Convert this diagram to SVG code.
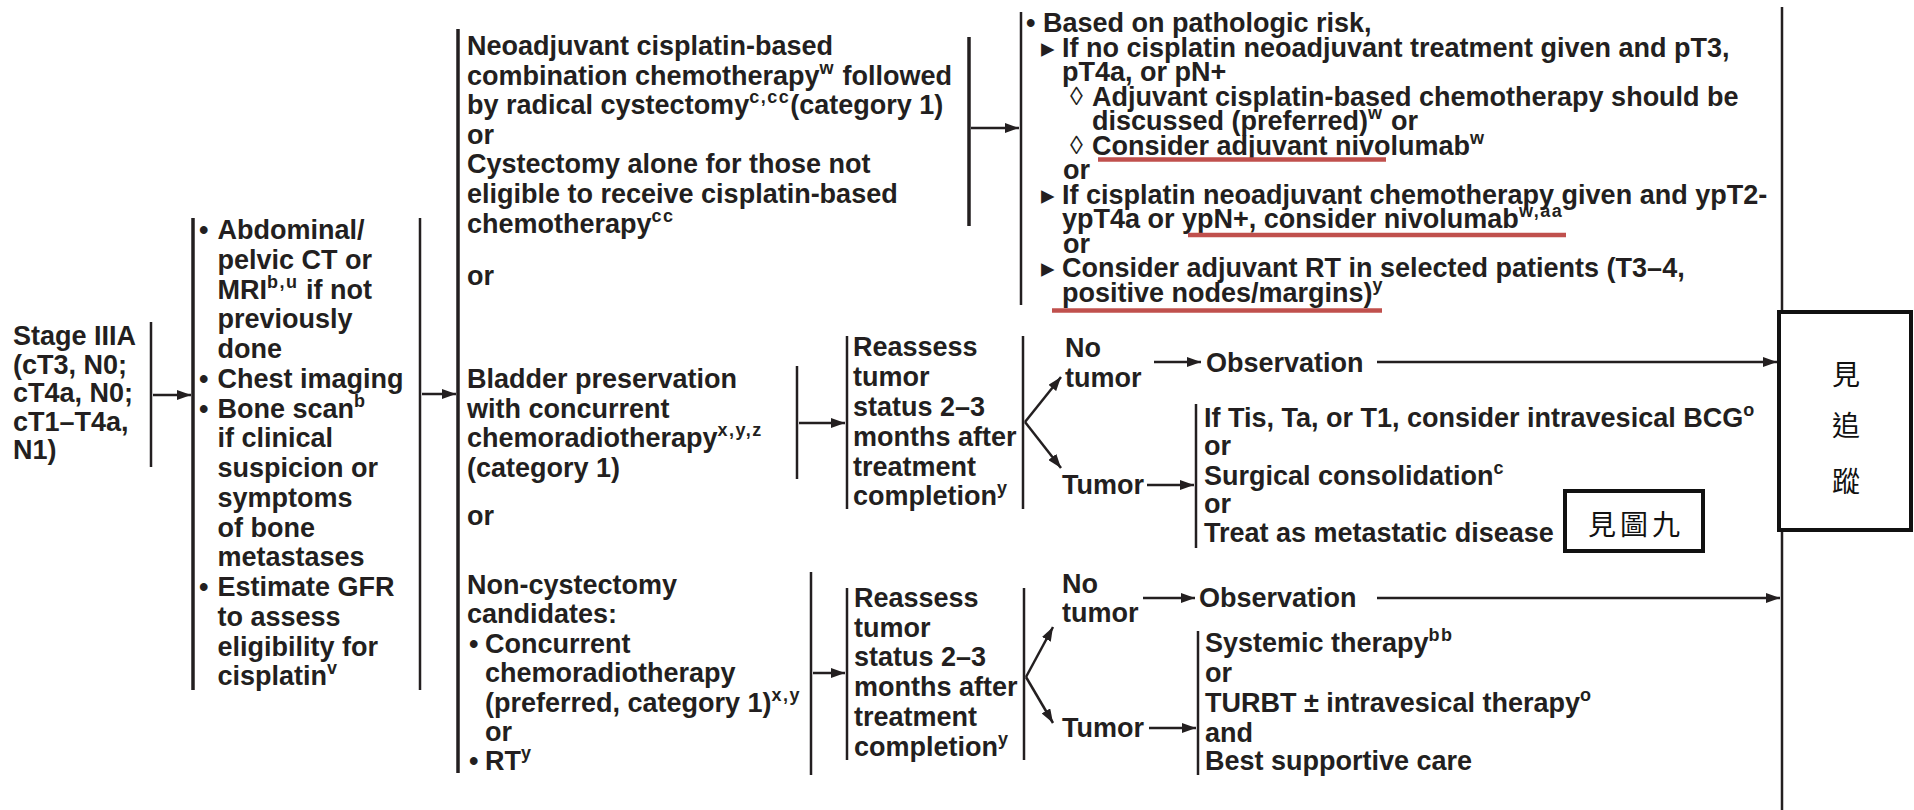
<svg xmlns="http://www.w3.org/2000/svg" width="1914" height="810" viewBox="0 0 1914 810">
<style>
.t{font-family:"Liberation Sans",Arial,sans-serif;font-weight:bold;font-size:27px;fill:#231f20}
.s{font-size:18px;letter-spacing:1.5px}
.sym{font-family:"DejaVu Sans","Liberation Sans",sans-serif;font-weight:normal;font-size:27px;fill:#231f20}
.dia{font-family:"Liberation Sans","DejaVu Sans",sans-serif;font-weight:normal;font-size:26px;fill:#231f20}
.cjk{font-family:"Noto Sans CJK TC","Noto Sans CJK SC",sans-serif;font-size:28px;fill:#111}
.ln{stroke:#231f20;stroke-width:2.5;fill:none}
.lk{stroke:#231f20;stroke-width:3.5;fill:none}
.ar{marker-end:url(#ah)}
.box{fill:#fff;stroke:#111;stroke-width:4}
.red{stroke:#c0504d;stroke-width:4.5;fill:none}
.shd{stroke:#9a9a9a;stroke-width:3;opacity:.6;fill:none;filter:url(#blur)}
</style>
<defs>
<marker id="ah" markerUnits="userSpaceOnUse" markerWidth="14" markerHeight="10" refX="14" refY="5" orient="auto">
<path d="M0,0 L14,5 L0,10 z" fill="#231f20"/>
</marker>
<filter id="blur" x="-5%" y="-200%" width="110%" height="500%"><feGaussianBlur stdDeviation="1.2"/></filter>
</defs>
<rect width="1914" height="810" fill="#fff"/>

<g id="connectors">
<line class="ln" x1="151" y1="322" x2="151" y2="467"/>
<line class="ln ar" x1="153" y1="395" x2="191" y2="395"/>
<line class="lk" x1="193" y1="218" x2="193" y2="690"/>
<line class="ln" x1="420" y1="218" x2="420" y2="690"/>
<line class="ln ar" x1="422" y1="394" x2="456" y2="394"/>
<line class="lk" x1="458" y1="29" x2="458" y2="773"/>
<line class="lk" x1="969" y1="37" x2="969" y2="226"/>
<line class="ln ar" x1="971" y1="128" x2="1019" y2="128"/>
<line class="ln" x1="1021" y1="12" x2="1021" y2="305"/>
<line class="ln" x1="797" y1="366" x2="797" y2="479"/>
<line class="ln ar" x1="799" y1="423" x2="845" y2="423"/>
<line class="ln" x1="847" y1="336" x2="847" y2="509"/>
<line class="ln" x1="1023" y1="336" x2="1023" y2="509"/>
<line class="ln ar" x1="1025" y1="422" x2="1061" y2="377"/>
<line class="ln ar" x1="1025" y1="422" x2="1061" y2="468"/>
<line class="ln ar" x1="1154" y1="362" x2="1201" y2="362"/>
<line class="ln ar" x1="1377" y1="362" x2="1777" y2="362"/>
<line class="ln ar" x1="1147" y1="485" x2="1194" y2="485"/>
<line class="ln" x1="1196" y1="404" x2="1196" y2="548"/>
<line class="ln" x1="811" y1="572" x2="811" y2="775"/>
<line class="ln ar" x1="813" y1="673" x2="845" y2="673"/>
<line class="ln" x1="847" y1="588" x2="847" y2="760"/>
<line class="ln" x1="1024" y1="588" x2="1024" y2="760"/>
<line class="ln ar" x1="1026" y1="677" x2="1053" y2="627"/>
<line class="ln ar" x1="1026" y1="677" x2="1053" y2="723"/>
<line class="ln ar" x1="1143" y1="598" x2="1195" y2="598"/>
<line class="ln ar" x1="1377" y1="598" x2="1780" y2="598"/>
<line class="ln ar" x1="1149" y1="728" x2="1196" y2="728"/>
<line class="ln" x1="1198" y1="631" x2="1198" y2="775"/>
<line class="ln" x1="1782" y1="7" x2="1782" y2="810"/>
</g>

<g id="n-stage">
<text class="t"><tspan x="13" y="345">Stage IIIA</tspan><tspan x="13" y="373.5">(cT3, N0;</tspan><tspan x="13" y="402">cT4a, N0;</tspan><tspan x="13" y="430.5">cT1–T4a,</tspan><tspan x="13" y="459">N1)</tspan></text>
</g>

<g id="n-workup">
<text class="t">
<tspan x="199" y="239">•</tspan><tspan x="217.5" y="239">Abdominal/</tspan>
<tspan x="217.5" y="268.75">pelvic CT or</tspan>
<tspan x="217.5" y="298.5">MRI</tspan><tspan class="s" dy="-11">b,u</tspan><tspan dy="11"> if not</tspan>
<tspan x="217.5" y="328.25">previously</tspan>
<tspan x="217.5" y="358">done</tspan>
<tspan x="199" y="387.75">•</tspan><tspan x="217.5" y="387.75">Chest imaging</tspan>
<tspan x="199" y="417.5">•</tspan><tspan x="217.5" y="417.5">Bone scan</tspan><tspan class="s" dy="-11">b</tspan>
<tspan x="217.5" y="447.25">if clinical</tspan>
<tspan x="217.5" y="477">suspicion or</tspan>
<tspan x="217.5" y="506.75">symptoms</tspan>
<tspan x="217.5" y="536.5">of bone</tspan>
<tspan x="217.5" y="566.25">metastases</tspan>
<tspan x="199" y="596">•</tspan><tspan x="217.5" y="596">Estimate GFR</tspan>
<tspan x="217.5" y="625.75">to assess</tspan>
<tspan x="217.5" y="655.5">eligibility for</tspan>
<tspan x="217.5" y="685.25">cisplatin</tspan><tspan class="s" dy="-11">v</tspan>
</text>
</g>

<g id="n-cystectomy">
<text class="t">
<tspan x="467" y="55">Neoadjuvant cisplatin-based</tspan>
<tspan x="467" y="84.6">combination chemotherapy</tspan><tspan class="s" dy="-11">w</tspan><tspan dy="11"> followed</tspan>
<tspan x="467" y="114.2">by radical cystectomy</tspan><tspan class="s" dy="-11">c,cc</tspan><tspan dy="11">(category 1)</tspan>
<tspan x="467" y="143.8">or</tspan>
<tspan x="467" y="173.4">Cystectomy alone for those not</tspan>
<tspan x="467" y="203">eligible to receive cisplatin-based</tspan>
<tspan x="467" y="232.6">chemotherapy</tspan><tspan class="s" dy="-11">cc</tspan>
<tspan x="467" y="285">or</tspan>
</text>
</g>

<g id="n-bladder">
<text class="t">
<tspan x="467" y="388">Bladder preservation</tspan>
<tspan x="467" y="418">with concurrent</tspan>
<tspan x="467" y="447">chemoradiotherapy</tspan><tspan class="s" dy="-11">x,y,z</tspan>
<tspan x="467" y="477">(category 1)</tspan>
<tspan x="467" y="525">or</tspan>
</text>
</g>

<g id="n-noncyst">
<text class="t">
<tspan x="467" y="594">Non-cystectomy</tspan>
<tspan x="467" y="623">candidates:</tspan>
<tspan x="469" y="653">•</tspan><tspan x="485" y="653">Concurrent</tspan>
<tspan x="485" y="682">chemoradiotherapy</tspan>
<tspan x="485" y="712">(preferred, category 1)</tspan><tspan class="s" dy="-11">x,y</tspan>
<tspan x="485" y="741">or</tspan>
<tspan x="469" y="770">•</tspan><tspan x="485" y="770">RT</tspan><tspan class="s" dy="-11">y</tspan>
</text>
</g>

<g id="n-adjuvant">
<text class="t">
<tspan x="1026" y="32">•</tspan><tspan x="1043" y="32">Based on pathologic risk,</tspan>
<tspan x="1062" y="56.5">If no cisplatin neoadjuvant treatment given and pT3,</tspan>
<tspan x="1062" y="81">pT4a, or pN+</tspan>
<tspan x="1092" y="105.5">Adjuvant cisplatin-based chemotherapy should be</tspan>
<tspan x="1092" y="130">discussed (preferred)</tspan><tspan class="s" dy="-11">w</tspan><tspan dy="11"> or</tspan>
<tspan x="1092" y="154.5">Consider adjuvant nivolumab</tspan><tspan class="s" dy="-11">w</tspan>
<tspan x="1063" y="179">or</tspan>
<tspan x="1062" y="203.5">If cisplatin neoadjuvant chemotherapy given and ypT2-</tspan>
<tspan x="1062" y="228">ypT4a or ypN+, consider nivolumab</tspan><tspan class="s" dy="-11">w,aa</tspan>
<tspan x="1063" y="252.5">or</tspan>
<tspan x="1062" y="277">Consider adjuvant RT in selected patients (T3–4,</tspan>
<tspan x="1062" y="301.5">positive nodes/margins)</tspan><tspan class="s" dy="-11">y</tspan>
</text>
<text class="sym"><tspan x="1041" y="56.5">▸</tspan><tspan x="1041" y="203.5">▸</tspan><tspan x="1041" y="277">▸</tspan></text>
<text class="dia"><tspan x="1070" y="105">◊</tspan><tspan x="1070" y="154">◊</tspan></text>
<line class="shd" x1="1100" y1="163.5" x2="1390" y2="163.5"/>
<line class="red" x1="1098" y1="159.5" x2="1386" y2="159.5"/>
<line class="shd" x1="1190" y1="239" x2="1570" y2="239"/>
<line class="red" x1="1188" y1="235" x2="1566" y2="235"/>
<line class="shd" x1="1054" y1="315" x2="1430" y2="315"/>
<line class="red" x1="1052" y1="310.5" x2="1382" y2="310.5"/>
</g>

<g id="n-reassess1">
<text class="t">
<tspan x="853" y="356">Reassess</tspan>
<tspan x="853" y="386">tumor</tspan>
<tspan x="853" y="416">status 2–3</tspan>
<tspan x="853" y="445.5">months after</tspan>
<tspan x="853" y="475.5">treatment</tspan>
<tspan x="853" y="505">completion</tspan><tspan class="s" dy="-11">y</tspan>
</text>
</g>

<g id="n-notumor1">
<text class="t"><tspan x="1065" y="357">No</tspan><tspan x="1065" y="387">tumor</tspan></text>
</g>
<g id="n-obs1">
<text class="t" x="1206" y="372">Observation</text>
</g>
<g id="n-tumor1">
<text class="t" x="1062" y="494">Tumor</text>
</g>
<g id="n-tumor1-opts">
<text class="t">
<tspan x="1204" y="427">If Tis, Ta, or T1, consider intravesical BCG</tspan><tspan class="s" dy="-11">o</tspan>
<tspan x="1204" y="455">or</tspan>
<tspan x="1204" y="485">Surgical consolidation</tspan><tspan class="s" dy="-11">c</tspan>
<tspan x="1204" y="513">or</tspan>
<tspan x="1204" y="542">Treat as metastatic disease</tspan>
</text>
</g>
<g id="n-fig9">
<rect class="box" x="1565" y="491" width="138" height="60" stroke-width="3.5"/>
<text class="cjk" x="1588" y="535" letter-spacing="4">見圖九</text>
</g>

<g id="n-reassess2">
<text class="t">
<tspan x="854" y="607">Reassess</tspan>
<tspan x="854" y="636.7">tumor</tspan>
<tspan x="854" y="666.4">status 2–3</tspan>
<tspan x="854" y="696">months after</tspan>
<tspan x="854" y="725.8">treatment</tspan>
<tspan x="854" y="755.5">completion</tspan><tspan class="s" dy="-11">y</tspan>
</text>
</g>
<g id="n-notumor2">
<text class="t"><tspan x="1062" y="593">No</tspan><tspan x="1062" y="622">tumor</tspan></text>
</g>
<g id="n-obs2">
<text class="t" x="1199" y="607">Observation</text>
</g>
<g id="n-tumor2">
<text class="t" x="1062" y="737">Tumor</text>
</g>
<g id="n-tumor2-opts">
<text class="t">
<tspan x="1205" y="652">Systemic therapy</tspan><tspan class="s" dy="-11">bb</tspan>
<tspan x="1205" y="682">or</tspan>
<tspan x="1205" y="712">TURBT ± intravesical therapy</tspan><tspan class="s" dy="-11">o</tspan>
<tspan x="1205" y="742">and</tspan>
<tspan x="1205" y="770">Best supportive care</tspan>
</text>
</g>

<g id="n-followup">
<rect class="box" x="1779" y="312" width="132" height="218"/>
<text class="cjk" text-anchor="middle"><tspan x="1846" y="385">見</tspan><tspan x="1846" y="436">追</tspan><tspan x="1846" y="492">蹤</tspan></text>
</g>
</svg>
